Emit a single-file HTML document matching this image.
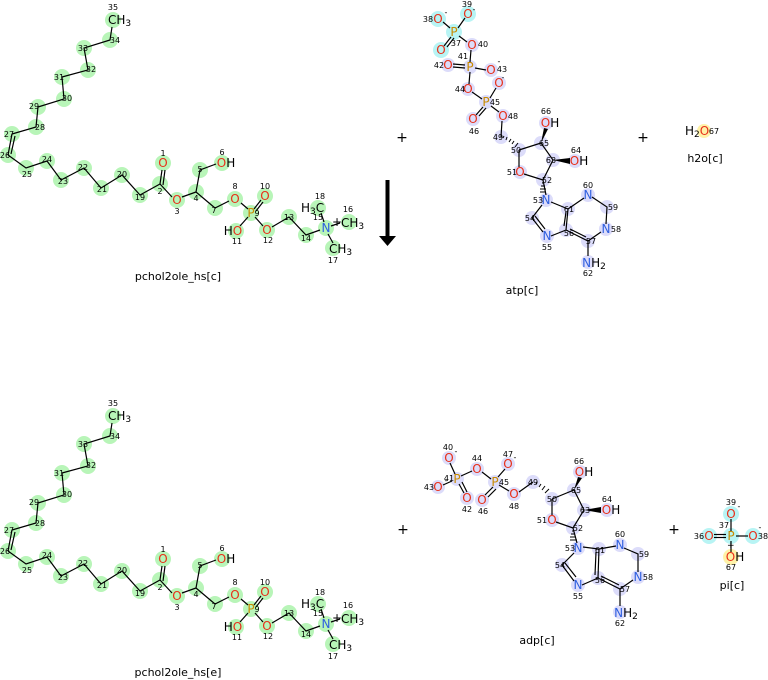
<!DOCTYPE html>
<html><head><meta charset="utf-8"><style>
html,body{margin:0;padding:0;background:#fff;}
svg{display:block;font-family:"DejaVu Sans","Liberation Sans",sans-serif;}
.n{font-size:8px;fill:#000;text-anchor:middle}
.e{font-size:12px;text-anchor:middle}
.O{fill:#e8301a}.P{fill:#c88a00}.N{fill:#3060e0}.K{fill:#000}
.b line,.b polyline{stroke:#000;stroke-width:1.2;fill:none}
.g circle{fill:#b8f5b8}
.v circle{fill:#dcdcfa}
.c circle{fill:#b8f4f4}
.lab{font-size:11px;text-anchor:middle;fill:#000}
.pl{font-size:14px;text-anchor:middle;fill:#000}
</style></head><body>
<svg width="768" height="680" viewBox="0 0 768 680" xmlns="http://www.w3.org/2000/svg">
<defs></defs>
<!-- ===== Lipid top ===== -->
<g id="lip">
<g class="g">
<circle cx="113" cy="20" r="8"/><circle cx="110" cy="40" r="8"/><circle cx="84" cy="48" r="8"/><circle cx="88" cy="70" r="8"/><circle cx="62" cy="77" r="8"/><circle cx="64" cy="99" r="8"/><circle cx="38" cy="107" r="8"/><circle cx="36" cy="127" r="8"/><circle cx="12" cy="134" r="8"/><circle cx="8" cy="155" r="8"/><circle cx="26" cy="168" r="8"/><circle cx="47" cy="161" r="8"/><circle cx="61" cy="180" r="8"/><circle cx="84" cy="168" r="8"/><circle cx="101" cy="188" r="8"/><circle cx="122" cy="175" r="8"/><circle cx="140" cy="195" r="8"/><circle cx="160" cy="184" r="8"/><circle cx="163" cy="163" r="8"/><circle cx="177" cy="200" r="8"/><circle cx="196" cy="192" r="8"/><circle cx="200" cy="170" r="8"/><circle cx="222" cy="163" r="8"/><circle cx="215" cy="208" r="8"/><circle cx="235" cy="199" r="8"/><circle cx="251" cy="213" r="8"/><circle cx="265" cy="196" r="8"/><circle cx="236" cy="231" r="8"/><circle cx="267" cy="230" r="8"/><circle cx="289" cy="217" r="8"/><circle cx="306" cy="235" r="8"/><circle cx="326" cy="228" r="8"/><circle cx="349" cy="222" r="8"/><circle cx="333" cy="248" r="8"/><circle cx="318" cy="208" r="8"/>
</g>
<g class="b">
<polyline points="112,27 110,40 84,48 88,70 62,77 64,99 38,107 36,127 12,134"/>
<line x1="12" y1="134" x2="8" y2="155"/><line x1="15" y1="136" x2="11" y2="154"/>
<polyline points="8,155 26,168 47,161 61,180 84,168 101,188 122,175 140,195 160,184 172,197"/>
<line x1="160" y1="184" x2="162" y2="170"/><line x1="163" y1="185" x2="165" y2="170"/>
<polyline points="182,197 196,192 200,170 216,164"/>
<polyline points="196,192 215,208 229,201"/>
<line x1="241" y1="203" x2="248" y2="209"/>
<line x1="254" y1="209" x2="261" y2="200"/><line x1="256" y1="211" x2="263" y2="202"/>
<line x1="248" y1="217" x2="240" y2="226"/>
<line x1="255" y1="217" x2="263" y2="226"/>
<polyline points="272,227 289,217 306,235 320,230"/>
<line x1="331" y1="226" x2="340" y2="223"/>
<line x1="328" y1="234" x2="333" y2="243"/>
<line x1="324" y1="222" x2="321" y2="213"/>
</g>
<text class="n" x="113" y="10">35</text>
<text x="108" y="24" class="K" font-size="12">CH<tspan font-size="9" dy="2">3</tspan></text>
<text class="n" x="115" y="43">34</text><text class="n" x="83" y="51">33</text><text class="n" x="91" y="72">32</text><text class="n" x="59" y="80">31</text><text class="n" x="67" y="101">30</text><text class="n" x="34" y="109">29</text><text class="n" x="40" y="130">28</text><text class="n" x="9" y="137">27</text><text class="n" x="5" y="158">26</text><text class="n" x="27" y="177">25</text><text class="n" x="47" y="162">24</text><text class="n" x="63" y="184">23</text><text class="n" x="83" y="170">22</text><text class="n" x="102" y="192">21</text><text class="n" x="122" y="177">20</text><text class="n" x="140" y="200">19</text><text class="n" x="160" y="194">2</text>
<text class="n" x="163" y="156">1</text><text class="e O" x="163" y="167">O</text>
<text class="e O" x="177" y="204">O</text><text class="n" x="177" y="214">3</text>
<text class="n" x="196" y="201">4</text><text class="n" x="200" y="172">5</text>
<text class="n" x="222" y="155">6</text><text class="e" x="226" y="167"><tspan class="O">O</tspan><tspan class="K">H</tspan></text>
<text class="n" x="214" y="213">7</text>
<text class="n" x="235" y="189">8</text><text class="e O" x="235" y="203">O</text>
<text class="e P" x="251" y="217">P</text><text class="n" x="257" y="216">9</text>
<text class="n" x="265" y="189">10</text><text class="e O" x="265" y="200">O</text>
<text class="e" x="233" y="235"><tspan class="K">H</tspan><tspan class="O">O</tspan></text><text class="n" x="237" y="244">11</text>
<text class="e O" x="267" y="234">O</text><text class="n" x="268" y="243">12</text>
<text class="n" x="289" y="220">13</text><text class="n" x="306" y="241">14</text>
<text class="e N" x="326" y="232">N</text><text class="n" x="318" y="220">15</text>
<text x="332" y="226" class="K" font-size="12">+</text>
<text x="341" y="227" class="K" font-size="12">CH<tspan font-size="9" dy="2">3</tspan></text><text class="n" x="348" y="212">16</text>
<text x="329" y="253" class="K" font-size="12">CH<tspan font-size="9" dy="2">3</tspan></text><text class="n" x="333" y="263">17</text>
<text x="301" y="212" class="K" font-size="12">H<tspan font-size="9" dy="2">3</tspan><tspan dy="-2">C</tspan></text><text class="n" x="320" y="199">18</text>
</g>
<text class="lab" x="178" y="280">pchol2ole_hs[c]</text>

<!-- ===== Lipid bottom (copy shifted) ===== -->
<use href="#lip" transform="translate(0,396)"/>
<text class="lab" x="178" y="676">pchol2ole_hs[e]</text>

<!-- plus signs & arrow -->
<text class="pl" x="402" y="142">+</text>
<text class="pl" x="643" y="142">+</text>
<text class="pl" x="403" y="534">+</text>
<text class="pl" x="674" y="534">+</text>
<rect x="385.5" y="180" width="4" height="57" fill="#000"/>
<polygon points="379,236 396,236 387.5,246" fill="#000"/>

<!-- ===== ATP ===== -->
<g class="c"><circle cx="438" cy="19" r="8"/><circle cx="468" cy="14" r="8"/><circle cx="454" cy="32" r="8"/><circle cx="441" cy="50" r="8"/></g>
<g class="v">
<circle cx="472" cy="45" r="7"/><circle cx="470" cy="67" r="7"/><circle cx="448" cy="65" r="7"/><circle cx="491" cy="70" r="7"/><circle cx="499" cy="83" r="7"/><circle cx="468" cy="89" r="7"/><circle cx="486" cy="102" r="7"/><circle cx="473" cy="119" r="7"/><circle cx="503" cy="116" r="7"/><circle cx="501" cy="137" r="7"/><circle cx="519" cy="150" r="7"/><circle cx="541" cy="143" r="7"/><circle cx="546" cy="123" r="7"/><circle cx="553" cy="160" r="7"/><circle cx="575" cy="161" r="7"/><circle cx="543" cy="180" r="7"/><circle cx="520" cy="172" r="7"/><circle cx="546" cy="200" r="7"/><circle cx="532" cy="218" r="7"/><circle cx="547" cy="236" r="7"/><circle cx="566" cy="230" r="7"/><circle cx="568" cy="209" r="7"/><circle cx="588" cy="195" r="7"/><circle cx="607" cy="207" r="7"/><circle cx="606" cy="229" r="7"/><circle cx="588" cy="241" r="7"/><circle cx="588" cy="262" r="7"/>
</g>
<g class="b">
<line x1="443" y1="22" x2="450" y2="28"/><line x1="465" y1="18" x2="458" y2="28"/>
<line x1="451" y1="37" x2="444" y2="46"/><line x1="454" y1="38" x2="447" y2="47"/>
<line x1="459" y1="36" x2="467" y2="42"/>
<line x1="471" y1="50" x2="470" y2="62"/>
<line x1="465" y1="65" x2="453" y2="64"/><line x1="465" y1="68" x2="453" y2="67"/>
<line x1="475" y1="68" x2="486" y2="70"/>
<line x1="470" y1="72" x2="469" y2="84"/>
<line x1="472" y1="92" x2="482" y2="99"/>
<line x1="490" y1="98" x2="496" y2="88"/>
<line x1="483" y1="107" x2="476" y2="115"/><line x1="486" y1="108" x2="479" y2="116"/>
<line x1="491" y1="106" x2="499" y2="112"/>
<line x1="502" y1="121" x2="501" y2="137"/>
<polyline points="519,150 541,143 553,160 543,180 524,174"/>
<line x1="519" y1="150" x2="519" y2="167"/>
<line x1="543" y1="180" x2="546" y2="195"/>
<polyline points="542,205 532,218 543,232"/>
<line x1="535" y1="216" x2="545" y2="229"/>
<polyline points="551,236 566,230 568,209 551,202"/>
<line x1="564" y1="226" x2="566" y2="212"/>
<polyline points="568,209 584,198"/>
<polyline points="592,197 607,207 606,224"/>
<polyline points="601,232 588,241 566,230"/>
<line x1="586" y1="237" x2="570" y2="229"/>
<line x1="588" y1="241" x2="588" y2="256"/>
</g>
<polygon points="541,143 544,128 548,129" fill="#000"/>
<polygon points="553,160 570,158 570,164" fill="#000"/>
<g stroke="#000" stroke-width="1"><line x1="503" y1="138" x2="504" y2="136"/><line x1="506" y1="140" x2="507" y2="137"/><line x1="509" y1="142" x2="511" y2="139"/><line x1="512" y1="144" x2="514" y2="141"/><line x1="515" y1="147" x2="518" y2="143"/><line x1="542" y1="183" x2="544" y2="183"/><line x1="541" y1="186" x2="545" y2="186"/><line x1="540" y1="189" x2="546" y2="189"/><line x1="540" y1="192" x2="546" y2="192"/></g>
<text class="e O" x="438" y="23">O</text><text class="n" x="428" y="22">38</text><text class="n" x="446" y="15">-</text>
<text class="e O" x="468" y="18">O</text><text class="n" x="467" y="7">39</text><text class="n" x="474" y="12">-</text>
<text class="e P" x="454" y="36">P</text><text class="n" x="456" y="46">37</text>
<text class="e O" x="441" y="54">O</text>
<text class="e O" x="472" y="49">O</text><text class="n" x="483" y="47">40</text>
<text class="e P" x="470" y="71">P</text><text class="n" x="463" y="59">41</text>
<text class="e O" x="448" y="69">O</text><text class="n" x="439" y="68">42</text>
<text class="e O" x="491" y="74">O</text><text class="n" x="502" y="72">43</text><text class="n" x="499" y="64">-</text>
<text class="e O" x="499" y="87">O</text><text class="n" x="503" y="80">-</text>
<text class="e O" x="468" y="93">O</text><text class="n" x="460" y="92">44</text>
<text class="e P" x="486" y="106">P</text><text class="n" x="495" y="105">45</text>
<text class="e O" x="473" y="123">O</text><text class="n" x="474" y="134">46</text>
<text class="e O" x="503" y="120">O</text><text class="n" x="513" y="119">48</text>
<text class="n" x="498" y="140">49</text><text class="n" x="516" y="153">50</text>
<text class="n" x="544" y="146">65</text><text class="n" x="551" y="163">63</text><text class="n" x="547" y="183">52</text>
<text class="e O" x="520" y="176">O</text><text class="n" x="512" y="175">51</text>
<text class="e" x="550" y="127"><tspan class="O">O</tspan><tspan class="K">H</tspan></text><text class="n" x="546" y="114">66</text>
<text class="e" x="579" y="165"><tspan class="O">O</tspan><tspan class="K">H</tspan></text><text class="n" x="576" y="153">64</text>
<text class="e N" x="546" y="204">N</text><text class="n" x="538" y="203">53</text>
<text class="n" x="530" y="221">54</text>
<text class="e N" x="547" y="240">N</text><text class="n" x="547" y="250">55</text>
<text class="n" x="569" y="236">56</text><text class="n" x="569" y="212">61</text>
<text class="e N" x="588" y="199">N</text><text class="n" x="588" y="188">60</text>
<text class="n" x="613" y="210">59</text>
<text class="e N" x="606" y="233">N</text><text class="n" x="616" y="232">58</text>
<text class="n" x="591" y="244">57</text>
<text class="e" x="594" y="267"><tspan class="N">N</tspan><tspan class="K">H</tspan><tspan class="K" font-size="9" dy="2">2</tspan></text><text class="n" x="588" y="276">62</text>
<text class="lab" x="522" y="294">atp[c]</text>

<!-- h2o -->
<circle cx="704" cy="131" r="7" fill="#fff2a8"/>
<text x="685" y="135" font-size="12" class="K">H<tspan font-size="9" dy="2">2</tspan><tspan dy="-2" class="O">O</tspan></text>
<text class="n" x="714" y="134">67</text>
<text class="lab" x="705" y="162">h2o[c]</text>

<!-- ===== ADP ===== -->
<g class="v">
<circle cx="449" cy="458" r="7"/><circle cx="457" cy="479" r="7"/><circle cx="438" cy="487" r="7"/><circle cx="467" cy="498" r="7"/><circle cx="477" cy="469" r="7"/><circle cx="495" cy="482" r="7"/><circle cx="482" cy="500" r="7"/><circle cx="508" cy="464" r="7"/><circle cx="514" cy="494" r="7"/><circle cx="533" cy="482" r="7"/><circle cx="552" cy="499" r="7"/><circle cx="574" cy="490" r="7"/><circle cx="580" cy="472" r="7"/><circle cx="584" cy="510" r="7"/><circle cx="607" cy="510" r="7"/><circle cx="573" cy="528" r="7"/><circle cx="552" cy="520" r="7"/><circle cx="578" cy="548" r="7"/><circle cx="562" cy="565" r="7"/><circle cx="578" cy="585" r="7"/><circle cx="598" cy="578" r="7"/><circle cx="599" cy="549" r="7"/><circle cx="620" cy="545" r="7"/><circle cx="638" cy="554" r="7"/><circle cx="638" cy="577" r="7"/><circle cx="620" cy="589" r="7"/><circle cx="620" cy="612" r="7"/>
</g>
<g class="b">
<line x1="450" y1="463" x2="455" y2="474"/>
<line x1="452" y1="481" x2="443" y2="485"/>
<line x1="459" y1="484" x2="464" y2="493"/><line x1="462" y1="482" x2="467" y2="492"/>
<line x1="461" y1="476" x2="472" y2="471"/>
<line x1="482" y1="472" x2="491" y2="479"/>
<line x1="493" y1="487" x2="485" y2="495"/><line x1="496" y1="489" x2="488" y2="497"/>
<line x1="498" y1="477" x2="505" y2="469"/>
<line x1="499" y1="485" x2="509" y2="491"/>
<line x1="519" y1="492" x2="533" y2="482"/>
<polyline points="552,499 574,490 584,510 573,528 556,522"/>
<line x1="552" y1="499" x2="552" y2="515"/>
<line x1="573" y1="528" x2="577" y2="543"/>
<polyline points="574,553 562,565 574,581"/>
<line x1="565" y1="563" x2="576" y2="577"/>
<polyline points="582,585 598,578 599,549 583,547"/>
<line x1="595" y1="575" x2="596" y2="552"/>
<polyline points="599,549 616,546"/>
<polyline points="624,548 638,554 638,572"/>
<polyline points="633,580 620,589 598,578"/>
<line x1="619" y1="585" x2="601" y2="576"/>
<line x1="620" y1="589" x2="620" y2="606"/>
</g>
<polygon points="574,490 578,477 582,478" fill="#000"/>
<polygon points="584,510 601,507 601,513" fill="#000"/>
<g stroke="#000" stroke-width="1"><line x1="536" y1="484" x2="537" y2="482"/><line x1="539" y1="487" x2="541" y2="484"/><line x1="542" y1="490" x2="545" y2="486"/><line x1="545" y1="493" x2="549" y2="489"/><line x1="572" y1="531" x2="574" y2="531"/><line x1="571" y1="534" x2="575" y2="534"/><line x1="570" y1="537" x2="576" y2="537"/><line x1="570" y1="540" x2="577" y2="540"/></g>
<text class="e O" x="449" y="462">O</text><text class="n" x="448" y="450">40</text><text class="n" x="456" y="454">-</text>
<text class="e P" x="457" y="483">P</text><text class="n" x="449" y="481">41</text>
<text class="e O" x="438" y="491">O</text><text class="n" x="429" y="490">43</text><text class="n" x="446" y="483">-</text>
<text class="e O" x="467" y="502">O</text><text class="n" x="467" y="512">42</text>
<text class="e O" x="477" y="473">O</text><text class="n" x="477" y="461">44</text>
<text class="e P" x="495" y="486">P</text><text class="n" x="504" y="485">45</text>
<text class="e O" x="482" y="504">O</text><text class="n" x="483" y="514">46</text>
<text class="e O" x="508" y="468">O</text><text class="n" x="508" y="457">47</text><text class="n" x="515" y="460">-</text>
<text class="e O" x="514" y="498">O</text><text class="n" x="514" y="509">48</text>
<text class="n" x="533" y="485">49</text><text class="n" x="552" y="502">50</text>
<text class="n" x="576" y="493">65</text><text class="n" x="585" y="513">63</text><text class="n" x="578" y="531">52</text>
<text class="e O" x="552" y="524">O</text><text class="n" x="542" y="523">51</text>
<text class="e" x="584" y="476"><tspan class="O">O</tspan><tspan class="K">H</tspan></text><text class="n" x="579" y="464">66</text>
<text class="e" x="611" y="514"><tspan class="O">O</tspan><tspan class="K">H</tspan></text><text class="n" x="607" y="502">64</text>
<text class="e N" x="578" y="552">N</text><text class="n" x="570" y="551">53</text>
<text class="n" x="560" y="568">54</text>
<text class="e N" x="578" y="589">N</text><text class="n" x="578" y="599">55</text>
<text class="n" x="600" y="583">56</text><text class="n" x="600" y="553">61</text>
<text class="e N" x="620" y="549">N</text><text class="n" x="620" y="537">60</text>
<text class="n" x="644" y="557">59</text>
<text class="e N" x="638" y="581">N</text><text class="n" x="648" y="580">58</text>
<text class="n" x="625" y="592">57</text>
<text class="e" x="626" y="617"><tspan class="N">N</tspan><tspan class="K">H</tspan><tspan class="K" font-size="9" dy="2">2</tspan></text><text class="n" x="620" y="626">62</text>
<text class="lab" x="537" y="644">adp[c]</text>

<!-- ===== Pi ===== -->
<g class="c"><circle cx="731" cy="514" r="8"/><circle cx="731" cy="536" r="8"/><circle cx="709" cy="536" r="8"/><circle cx="753" cy="536" r="8"/></g>
<circle cx="731" cy="557" r="8" fill="#fff2a8"/>
<g class="b">
<line x1="731" y1="519" x2="731" y2="531"/>
<line x1="714" y1="534.5" x2="726" y2="534.5"/><line x1="714" y1="537.5" x2="726" y2="537.5"/>
<line x1="736" y1="536" x2="748" y2="536"/>
<line x1="731" y1="541" x2="731" y2="552"/>
</g>
<text class="e O" x="731" y="518">O</text><text class="n" x="731" y="505">39</text><text class="n" x="739" y="509">-</text>
<text class="e P" x="731" y="540">P</text><text class="n" x="724" y="528">37</text>
<text class="e O" x="709" y="540">O</text><text class="n" x="699" y="539">36</text>
<text class="e O" x="753" y="540">O</text><text class="n" x="763" y="539">38</text><text class="n" x="760" y="530">-</text>
<text class="K" x="727" y="548" font-size="9">+</text>
<text class="e" x="735" y="561"><tspan class="O">O</tspan><tspan class="K">H</tspan></text><text class="n" x="731" y="570">67</text>
<text class="lab" x="732" y="589">pi[c]</text>
</svg>
</body></html>
